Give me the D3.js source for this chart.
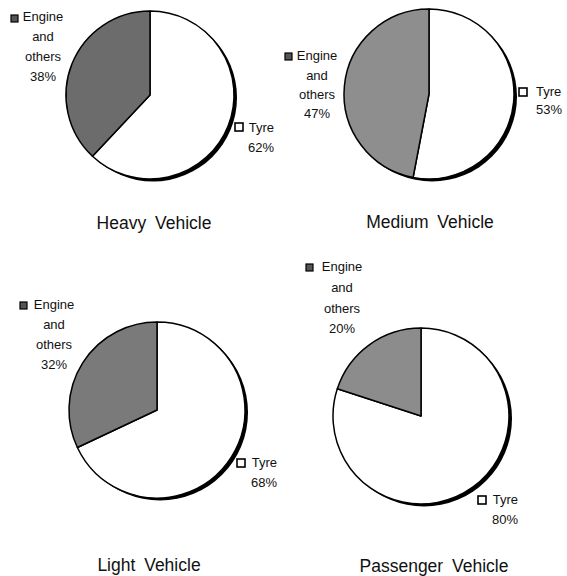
<!DOCTYPE html>
<html>
<head>
<meta charset="utf-8">
<script src="https://cdn.jsdelivr.net/npm/d3@7"></script>
<style>
  html, body { margin: 0; padding: 0; background: #fff; }
  svg { display: block; }
  text { font-family: "Liberation Sans", Arial, sans-serif; fill: #111; }
</style>
</head>
<body>
<svg id="chart" width="567" height="576"></svg>
<script>
// ---- data ----
const vehicles = ["Heavy Vehicle", "Medium Vehicle", "Light Vehicle", "Passenger Vehicle"];
const categories = ["Tyre", "Engine and others"];
const tyreShare = [62, 53, 68, 80];
const engineShare = [38, 47, 32, 20];
const engineLabelLines = ["Engine", "and", "others"];

// ---- layout / style (kept separate from data) ----
const layout = [
  { cx: 150, cy: 95,  r: 84, ex: 43,  ey: [21, 41, 61, 81],    esq: [11, 15],  tsq: [235, 123], tx: 274, tanchor: "end",   ty: [132, 152], titleX: 154, titleY: 229 },
  { cx: 429, cy: 94,  r: 85, ex: 317, ey: [60, 80, 99, 118],   esq: [285, 53], tsq: [519, 88],  tx: 536, tanchor: "start", ty: [96, 114],  titleX: 430, titleY: 228 },
  { cx: 157, cy: 410, r: 88, ex: 54,  ey: [309, 329, 349, 369], esq: [20, 302], tsq: [237, 459], tx: 277, tanchor: "end",   ty: [467, 487], titleX: 149, titleY: 571 },
  { cx: 421, cy: 416, r: 88, ex: 342, ey: [271, 292, 313, 333], esq: [306, 264], tsq: [478, 496], tx: 518, tanchor: "end",   ty: [504, 524], titleX: 434, titleY: 572 }
];
const engineFill = ["#6c6c6c", "#8e8e8e", "#7a7a7a", "#8c8c8c"];
const tyreFill = "#ffffff";

const svg = d3.select("#chart");
const pie = d3.pie().sort(null).value(d => d.value);

vehicles.forEach((name, i) => {
  const L = layout[i];
  const data = [
    { key: categories[0], value: tyreShare[i] },
    { key: categories[1], value: engineShare[i] }
  ];
  const arc = d3.arc().innerRadius(0).outerRadius(L.r);
  const color = d3.scaleOrdinal().domain(categories).range([tyreFill, engineFill[i]]);

  // shadow
  svg.append("circle")
    .attr("cx", L.cx + 3).attr("cy", L.cy + 2.5).attr("r", L.r)
    .attr("fill", "#000");

  const g = svg.append("g").attr("transform", `translate(${L.cx},${L.cy})`);
  g.selectAll("path").data(pie(data)).join("path")
    .attr("d", arc)
    .attr("fill", d => color(d.data.key))
    .attr("stroke", "#000")
    .attr("stroke-width", 1.5)
    .attr("stroke-linejoin", "round");

  // engine label
  const eLines = engineLabelLines.concat([engineShare[i] + "%"]);
  svg.append("g").selectAll("text").data(eLines).join("text")
    .attr("x", L.ex).attr("y", (d, k) => L.ey[k])
    .attr("text-anchor", "middle")
    .attr("font-size", 13)
    .text(d => d);
  svg.append("rect")
    .attr("x", L.esq[0]).attr("y", L.esq[1]).attr("width", 7).attr("height", 7)
    .attr("fill", "#555").attr("stroke", "#000").attr("stroke-width", 1.2);

  // tyre label
  const tLines = [categories[0], tyreShare[i] + "%"];
  svg.append("g").selectAll("text").data(tLines).join("text")
    .attr("x", L.tx).attr("y", (d, k) => L.ty[k])
    .attr("text-anchor", L.tanchor)
    .attr("font-size", 13)
    .text(d => d);
  svg.append("rect")
    .attr("x", L.tsq[0]).attr("y", L.tsq[1]).attr("width", 8).attr("height", 8)
    .attr("fill", "#fff").attr("stroke", "#000").attr("stroke-width", 1.6);

  // title
  svg.append("text")
    .attr("x", L.titleX).attr("y", L.titleY)
    .attr("text-anchor", "middle")
    .attr("font-size", 17.5)
    .attr("word-spacing", 4)
    .text(name);
});
</script>
</body>
</html>
